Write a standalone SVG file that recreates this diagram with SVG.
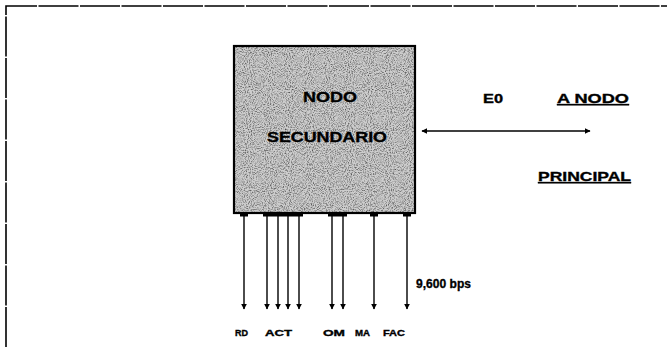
<svg xmlns="http://www.w3.org/2000/svg" width="667" height="347" viewBox="0 0 667 347">
<defs>
<style>
.t{font-family:"Liberation Sans",Arial,sans-serif;font-weight:bold;fill:#000;stroke:#000;stroke-width:0.35}
.w{stroke:#000;stroke-width:1.4;fill:none}
</style>
<marker id="ah" viewBox="0 0 10 10" refX="9" refY="5" markerWidth="6" markerHeight="6" orient="auto-start-reverse" markerUnits="userSpaceOnUse">
<path d="M0,0 L10,5 L0,10 z" fill="#000"/>
</marker>
<filter id="noise" x="0" y="0" width="100%" height="100%">
<feTurbulence type="fractalNoise" baseFrequency="0.95" numOctaves="2" seed="3" result="n"/>
<feColorMatrix type="matrix" values="0 0 0 0 0  0 0 0 0 0  0 0 0 0 0  1.3 0 0 0 -0.55" in="n"/>
</filter>
</defs>
<rect width="667" height="347" fill="#fff"/>
<g id="frame">
<path d="M6,347 L6,6 L667,6" fill="none" stroke="#000" stroke-width="1.6" stroke-dasharray="40 1.5"/>
</g>
<g id="nodo-secundario">
<rect x="234" y="46" width="181" height="167" fill="#cdcdcd"/>
<rect x="234" y="46" width="181" height="167" filter="url(#noise)"/>
<rect x="234" y="46" width="181" height="167" fill="none" stroke="#000" stroke-width="2.2"/>
<text class="t" x="303" y="102" font-size="15" textLength="54" lengthAdjust="spacingAndGlyphs">NODO</text>
<text class="t" x="267" y="142" font-size="15" textLength="120" lengthAdjust="spacingAndGlyphs">SECUNDARIO</text>
</g>
<g id="connectors">
<line class="w" x1="422" y1="131" x2="590" y2="131" marker-start="url(#ah)" marker-end="url(#ah)"/>
<g stroke="#000" stroke-width="3">
<line x1="240" y1="215" x2="248" y2="215"/>
<line x1="263" y1="215" x2="303" y2="215"/>
<line x1="328" y1="215" x2="347" y2="215"/>
<line x1="370" y1="215" x2="378" y2="215"/>
<line x1="403" y1="215" x2="411" y2="215"/>
</g>
<g marker-end="url(#ah)">
<line class="w" x1="244" y1="213" x2="244" y2="309"/>
<line class="w" x1="267" y1="213" x2="267" y2="309"/>
<line class="w" x1="278" y1="213" x2="278" y2="309"/>
<line class="w" x1="288" y1="213" x2="288" y2="309"/>
<line class="w" x1="299" y1="213" x2="299" y2="309"/>
<line class="w" x1="332" y1="213" x2="332" y2="309"/>
<line class="w" x1="343" y1="213" x2="343" y2="309"/>
<line class="w" x1="374" y1="213" x2="374" y2="309"/>
<line class="w" x1="407" y1="213" x2="407" y2="309"/>
</g>
</g>
<g id="labels">
<text class="t" x="483" y="103" font-size="13" textLength="20" lengthAdjust="spacingAndGlyphs">E0</text>
<text class="t" x="557" y="103" font-size="13" textLength="72" lengthAdjust="spacingAndGlyphs" text-decoration="underline">A NODO</text>
<text class="t" x="538" y="181" font-size="13" textLength="93" lengthAdjust="spacingAndGlyphs" text-decoration="underline">PRINCIPAL</text>
<text class="t" x="416" y="288" font-size="13" textLength="55" lengthAdjust="spacingAndGlyphs">9,600 bps</text>
<text class="t" x="235" y="336" font-size="9" textLength="13" lengthAdjust="spacingAndGlyphs">RD</text>
<text class="t" x="265" y="336" font-size="9" textLength="27" lengthAdjust="spacingAndGlyphs">ACT</text>
<text class="t" x="323" y="336" font-size="9" textLength="22" lengthAdjust="spacingAndGlyphs">OM</text>
<text class="t" x="355" y="336" font-size="9" textLength="15" lengthAdjust="spacingAndGlyphs">MA</text>
<text class="t" x="383" y="336" font-size="9" textLength="22" lengthAdjust="spacingAndGlyphs">FAC</text>
</g>
</svg>
